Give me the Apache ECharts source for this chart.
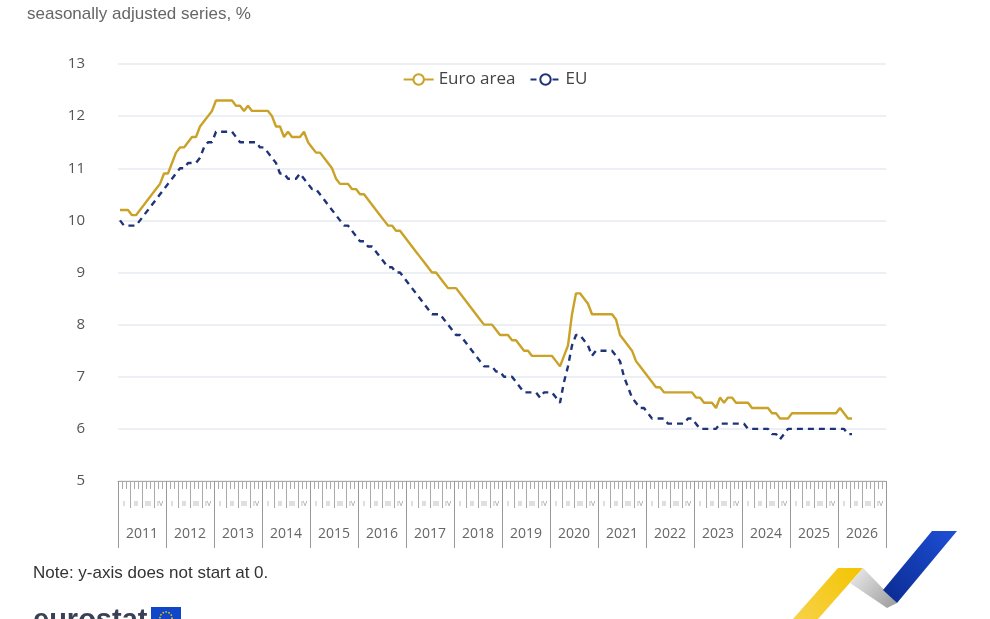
<!DOCTYPE html>
<html><head><meta charset="utf-8">
<script src="https://cdn.jsdelivr.net/npm/echarts@6/dist/echarts.min.js"></script>
<style>html,body{margin:0;padding:0;background:#fff}#c{width:990px;height:619px}</style>
</head><body><div id="c"></div>
<script>
const years = ['2011','2012','2013','2014','2015','2016','2017','2018','2019','2020','2021','2022','2023','2024','2025','2026'];
const quarterLabels = ['I','II','III','IV'];
const monthNumbers = ['01','02','03','04','05','06','07','08','09','10','11','12'];
const yMin = 5, yMax = 13, yStep = 1;
const seriesNames = ['Euro area', 'EU'];

const euroArea = [
10.2,10.2,10.2,10.1,10.1,10.2,10.3,10.4,10.5,10.6,
10.7,10.9,10.9,11.1,11.3,11.4,11.4,11.5,11.6,11.6,
11.8,11.9,12.0,12.1,12.3,12.3,12.3,12.3,12.3,12.2,
12.2,12.1,12.2,12.1,12.1,12.1,12.1,12.1,12.0,11.8,
11.8,11.6,11.7,11.6,11.6,11.6,11.7,11.5,11.4,11.3,
11.3,11.2,11.1,11.0,10.8,10.7,10.7,10.7,10.6,10.6,
10.5,10.5,10.4,10.3,10.2,10.1,10.0,9.9,9.9,9.8,
9.8,9.7,9.6,9.5,9.4,9.3,9.2,9.1,9.0,9.0,
8.9,8.8,8.7,8.7,8.7,8.6,8.5,8.4,8.3,8.2,
8.1,8.0,8.0,8.0,7.9,7.8,7.8,7.8,7.7,7.7,
7.6,7.5,7.5,7.4,7.4,7.4,7.4,7.4,7.4,7.3,
7.2,7.4,7.6,8.2,8.6,8.6,8.5,8.4,8.2,8.2,
8.2,8.2,8.2,8.2,8.1,7.8,7.7,7.6,7.5,7.3,
7.2,7.1,7.0,6.9,6.8,6.8,6.7,6.7,6.7,6.7,
6.7,6.7,6.7,6.7,6.6,6.6,6.5,6.5,6.5,6.4,
6.6,6.5,6.6,6.6,6.5,6.5,6.5,6.5,6.4,6.4,
6.4,6.4,6.4,6.3,6.3,6.2,6.2,6.2,6.3,6.3,
6.3,6.3,6.3,6.3,6.3,6.3,6.3,6.3,6.3,6.3,
6.4,6.3,6.2,6.2
];

const eu = [
10.0,9.9,9.9,9.9,9.9,10.0,10.1,10.2,10.3,10.4,
10.5,10.6,10.7,10.8,10.9,11.0,11.0,11.1,11.1,11.1,
11.2,11.4,11.5,11.5,11.7,11.7,11.7,11.7,11.7,11.6,
11.5,11.5,11.5,11.5,11.5,11.4,11.4,11.3,11.2,11.1,
10.9,10.9,10.8,10.8,10.8,10.9,10.8,10.7,10.6,10.6,
10.5,10.4,10.3,10.2,10.1,10.0,9.9,9.9,9.8,9.7,
9.6,9.6,9.5,9.5,9.4,9.3,9.2,9.1,9.1,9.0,
9.0,8.9,8.8,8.7,8.6,8.5,8.4,8.3,8.2,8.2,
8.2,8.1,8.0,7.9,7.8,7.8,7.7,7.6,7.5,7.4,
7.3,7.2,7.2,7.2,7.1,7.1,7.0,7.0,7.0,6.9,
6.8,6.7,6.7,6.7,6.7,6.6,6.7,6.7,6.7,6.6,
6.5,6.9,7.2,7.6,7.8,7.8,7.7,7.6,7.4,7.5,
7.5,7.5,7.5,7.5,7.4,7.3,7.0,6.8,6.6,6.5,
6.4,6.4,6.3,6.2,6.2,6.2,6.2,6.1,6.1,6.1,
6.1,6.1,6.2,6.2,6.1,6.0,6.0,6.0,6.0,6.0,
6.1,6.1,6.1,6.1,6.1,6.1,6.1,6.0,6.0,6.0,
6.0,6.0,6.0,5.9,5.9,5.8,5.9,6.0,6.0,6.0,
6.0,6.0,6.0,6.0,6.0,6.0,6.0,6.0,6.0,6.0,
6.0,6.0,5.9,5.9
];

const months = [];
years.forEach(y => monthNumbers.forEach(m => months.push(y + '-' + m)));
const quarters = [];
years.forEach(y => quarterLabels.forEach(q => quarters.push(q)));

const chart = echarts.init(document.getElementById('c'));
const axisFont = '"Open Sans", "Noto Sans", sans-serif';
const textFont = '"Liberation Sans", Arial, sans-serif';

chart.setOption({
  animation: false,
  backgroundColor: '#ffffff',
  grid: { left: 118, right: 104, top: 64, bottom: 138, containLabel: false },
  legend: {
    top: 66, left: 'center',
    itemWidth: 30, itemHeight: 13, itemGap: 14,
    textStyle: { fontFamily: axisFont, fontSize: 17, color: '#444' },
    data: seriesNames
  },
  xAxis: [
    {
      type: 'category', data: months, position: 'bottom', offset: 0, boundaryGap: true,
      axisLine: { show: true, lineStyle: { color: '#aaa', width: 1 } },
      axisTick: { show: true, interval: 0, length: 8, lineStyle: { color: '#aaa' } },
      axisLabel: { show: false },
      splitLine: { show: false }
    },
    {
      type: 'category', data: quarters, position: 'bottom', offset: 0, boundaryGap: true,
      axisLine: { show: false },
      axisTick: { show: true, interval: 0, length: 27, lineStyle: { color: '#aaa' } },
      axisLabel: { show: true, interval: 0, margin: 19, fontSize: 7, color: '#999', fontFamily: axisFont },
      splitLine: { show: false }
    },
    {
      type: 'category', data: years, position: 'bottom', offset: 0, boundaryGap: true,
      axisLine: { show: false },
      axisTick: { show: true, interval: 0, length: 67, lineStyle: { color: '#999' } },
      axisLabel: { show: true, interval: 0, margin: 46, fontSize: 14, color: '#666', fontFamily: axisFont },
      splitLine: { show: false }
    }
  ],
  yAxis: {
    type: 'value', min: yMin, max: yMax, interval: yStep,
    axisLine: { show: false }, axisTick: { show: false },
    axisLabel: { fontSize: 15, color: '#555', margin: 33, fontFamily: axisFont },
    splitLine: { lineStyle: { color: '#e6ebf0', width: 1.5 } }
  },
  series: [
    {
      name: seriesNames[0], type: 'line', data: euroArea, xAxisIndex: 0,
      symbol: 'emptyCircle', showSymbol: false, smooth: false,
      lineStyle: { color: '#c9a227', width: 2.4 },
      itemStyle: { color: '#c9a227' }
    },
    {
      name: seriesNames[1], type: 'line', data: eu, xAxisIndex: 0,
      symbol: 'emptyCircle', showSymbol: false, smooth: false,
      lineStyle: { color: '#1f3478', width: 2.4, type: [6, 5] },
      itemStyle: { color: '#1f3478' }
    }
  ],
  graphic: [
    { type: 'text', left: 27, top: 6, style: { text: 'seasonally adjusted series, %', font: '17px ' + textFont, fill: '#666' } },
    { type: 'text', left: 33, top: 565, style: { text: 'Note: y-axis does not start at 0.', font: '17px ' + textFont, fill: '#333' } },
    { type: 'text', left: 33, top: 606, style: { text: 'eurostat', font: 'bold 29px ' + textFont, fill: '#3a4157' } },
    { type: 'rect', shape: { x: 151, y: 607, width: 30, height: 20 }, style: { fill: '#0f47c8' } },
    { type: 'circle', shape: { cx: 166, cy: 618, r: 6 }, style: { fill: 'none', stroke: '#f5d000', lineWidth: 1.5, lineDash: [1.5, 1.5] } },
    { type: 'polygon', shape: { points: [[793,619],[838,568],[863,568],[818,619]] },
      style: { fill: new echarts.graphic.LinearGradient(0, 1, 1, 0, [{ offset: 0, color: '#f7d24a' }, { offset: 1, color: '#f4c400' }]) } },
    { type: 'polygon', shape: { points: [[850,583],[863,568],[897,603],[887,608]] },
      style: { fill: new echarts.graphic.LinearGradient(0, 0, 1, 1, [{ offset: 0, color: '#eeeeee' }, { offset: 1, color: '#9a9a9a' }]) } },
    { type: 'polygon', shape: { points: [[883,590],[932,531],[957,531],[897,603]] },
      style: { fill: new echarts.graphic.LinearGradient(0, 1, 1, 0, [{ offset: 0, color: '#0a2a90' }, { offset: 1, color: '#1e4fd6' }]) } }
  ]
});
</script>
</body></html>
